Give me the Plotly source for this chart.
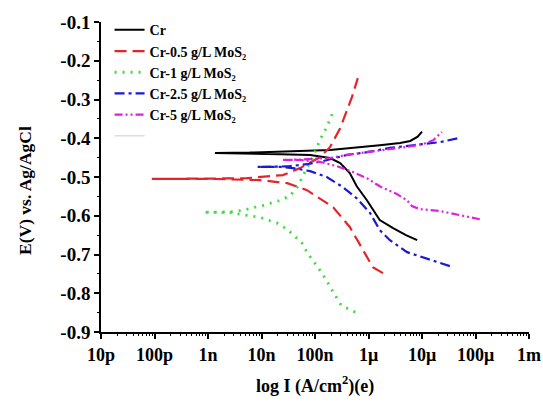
import numpy as np
import plotly.graph_objects as go

# ---- data (log10 of current density, potential in V) ----
cr_logI = [-5.09, -5.30, -5.54, -5.79, -6.03, -6.22, -6.35, -6.53, -6.72, -7.09, -7.65, -8.22, -8.87,
           -8.22, -7.65, -6.72, -5.79, -5.41, -5.22, -5.08, -5.00]
cr_E = [-0.663, -0.650, -0.632, -0.611, -0.560, -0.524, -0.490, -0.464, -0.451, -0.443, -0.441, -0.440, -0.438,
        -0.437, -0.435, -0.430, -0.418, -0.412, -0.407, -0.396, -0.383]

r_logI = [-5.73, -5.92, -6.10, -6.35, -6.66, -7.15, -7.52, -8.03, -8.91, -10.05,
          -8.91, -8.27, -7.84, -7.60, -7.28, -6.91, -6.72, -6.53, -6.40, -6.31, -6.20]
r_E = [-0.748, -0.733, -0.689, -0.629, -0.578, -0.534, -0.516, -0.508, -0.505, -0.505,
       -0.504, -0.503, -0.498, -0.495, -0.477, -0.449, -0.423, -0.374, -0.327, -0.294, -0.245]

g_logI = [-6.25, -6.51, -6.66, -6.81, -6.96, -7.13, -7.24, -7.41, -7.52, -7.71, -8.03, -8.27, -8.59, -9.09,
          -8.59, -8.35, -8.16, -7.97, -7.69, -7.47, -7.32, -7.22, -7.04, -6.91, -6.78, -6.68]
g_E = [-0.849, -0.831, -0.797, -0.761, -0.730, -0.699, -0.671, -0.648, -0.635, -0.619, -0.604, -0.599, -0.592, -0.591,
       -0.590, -0.586, -0.580, -0.573, -0.562, -0.549, -0.524, -0.495, -0.449, -0.405, -0.371, -0.338]

b_logI = [-4.48, -4.91, -5.28, -5.60, -5.79, -5.97, -6.22, -6.48, -6.78, -7.09, -7.41, -7.65, -8.08,
          -7.65, -7.47, -7.15, -6.85, -6.40, -6.03, -5.60, -5.17, -4.66, -4.33]
b_E = [-0.730, -0.710, -0.694, -0.663, -0.637, -0.593, -0.555, -0.526, -0.500, -0.485, -0.477, -0.474, -0.474,
       -0.473, -0.472, -0.467, -0.459, -0.443, -0.436, -0.425, -0.418, -0.410, -0.400]

m_logI = [-3.92, -4.33, -4.66, -5.04, -5.19, -5.28, -5.47, -5.79, -6.03, -6.29, -6.59, -6.91, -7.28, -7.60,
          -7.28, -6.72, -6.40, -6.03, -5.47, -5.17, -4.94, -4.79, -4.63]
m_E = [-0.609, -0.598, -0.588, -0.583, -0.575, -0.560, -0.544, -0.524, -0.503, -0.487, -0.472, -0.461, -0.456, -0.456,
       -0.455, -0.451, -0.443, -0.436, -0.425, -0.420, -0.413, -0.405, -0.384]

series_names = ["Cr", "Cr-0.5 g/L MoS₂", "Cr-1 g/L MoS₂", "Cr-2.5 g/L MoS₂", "Cr-5 g/L MoS₂"]

x_tick_vals = [1e-11, 1e-10, 1e-9, 1e-8, 1e-7, 1e-6, 1e-5, 1e-4, 1e-3]
x_tick_text = ["10p", "100p", "1n", "10n", "100n", "1μ", "10μ", "100μ", "1m"]
y_tick_vals = [-0.9, -0.8, -0.7, -0.6, -0.5, -0.4, -0.3, -0.2, -0.1]
y_tick_text = ["-0.9", "-0.8", "-0.7", "-0.6", "-0.5", "-0.4", "-0.3", "-0.2", "-0.1"]
y_minor_vals = [-0.85, -0.75, -0.65, -0.55, -0.45, -0.35, -0.25, -0.15]
x_minor_vals = [k * 10.0 ** n for n in range(-11, -3) for k in range(2, 10)]

FONT = "Liberation Serif"

styles = [
    dict(color="#000000", width=2, dash="solid"),
    dict(color="#e3242b", width=2.2, dash="12px,6px"),
    dict(color="#3ddc3d", width=2.8, dash="2px,6px"),
    dict(color="#1a1ad6", width=2.2, dash="10px,4px,3px,4px"),
    dict(color="#e020e0", width=2.2, dash="8px,3px,2px,3px,2px,3px"),
]

data = [(cr_logI, cr_E), (r_logI, r_E), (g_logI, g_E), (b_logI, b_E), (m_logI, m_E)]

fig = go.Figure()
for (lx, ey), name, st in zip(data, series_names, styles):
    fig.add_trace(go.Scatter(
        x=10 ** np.array(lx), y=ey, mode="lines", name="<b>" + name + "</b>",
        line=dict(color=st["color"], width=st["width"], dash=st["dash"]),
    ))
# empty legend entry seen in the reference
fig.add_trace(go.Scatter(x=[None], y=[None], mode="lines", name="<b> </b>",
                         line=dict(color="#cccccc", width=1)))
# carrier for the minor-tick axes
fig.add_trace(go.Scatter(x=[None], y=[None], xaxis="x2", yaxis="y2", mode="lines",
                         showlegend=False, hoverinfo="skip"))

fig.update_layout(
    template="none",
    width=543, height=406,
    margin=dict(l=101, r=14, t=22, b=74, autoexpand=False),
    paper_bgcolor="white", plot_bgcolor="white",
    font=dict(family=FONT, color="black"),
    showlegend=True,
    legend=dict(x=0.02, y=1.025, xanchor="left", yanchor="top",
                font=dict(family=FONT, size=14, color="black"),
                bgcolor="rgba(0,0,0,0)", borderwidth=0, tracegroupgap=0),
    xaxis=dict(type="log", range=[-11, -3], showgrid=False, zeroline=False, automargin=False,
               showline=True, linecolor="black", linewidth=2,
               ticks="outside", ticklen=5, tickwidth=1.5, tickcolor="black",
               tickmode="array", tickvals=x_tick_vals,
               ticktext=["<b>" + t + "</b>" for t in x_tick_text],
               tickfont=dict(family=FONT, size=18, color="black")),
    xaxis2=dict(type="log", range=[-11, -3], overlaying="x", anchor="y", side="bottom",
                showgrid=False, zeroline=False, automargin=False, showline=False,
                ticks="outside", ticklen=3, tickwidth=1, tickcolor="black",
                tickmode="array", tickvals=x_minor_vals, showticklabels=False),
    yaxis=dict(range=[-0.9, -0.1], showgrid=False, zeroline=False, automargin=False,
               showline=True, linecolor="black", linewidth=1.5,
               ticks="outside", ticklen=5, tickwidth=1.5, tickcolor="black",
               tickmode="array", tickvals=y_tick_vals,
               ticktext=["<b>" + t + "</b>" for t in y_tick_text],
               tickfont=dict(family=FONT, size=19, color="black")),
    yaxis2=dict(range=[-0.9, -0.1], overlaying="y", anchor="x", side="left",
                showgrid=False, zeroline=False, automargin=False, showline=False,
                ticks="outside", ticklen=3, tickwidth=1, tickcolor="black",
                tickmode="array", tickvals=y_minor_vals, showticklabels=False),
    annotations=[
        dict(text="<b>E(V) vs. Ag/AgCl</b>", xref="paper", yref="paper",
             x=(25 - 101) / 428, y=(332 - 191) / 310, xanchor="center", yanchor="middle",
             textangle=-90, showarrow=False,
             font=dict(family=FONT, size=17.5, color="black")),
        dict(text="<b>log I (A/cm<sup>2</sup>)(e)</b>", xref="paper", yref="paper",
             x=0.5, y=(332 - 385) / 310, xanchor="center", yanchor="middle",
             showarrow=False,
             font=dict(family=FONT, size=18, color="black")),
    ],
)

fig.write_html("out.html")
